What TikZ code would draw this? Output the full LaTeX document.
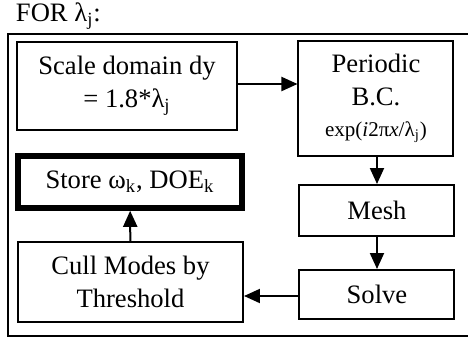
\documentclass[tikz,border=0pt]{standalone}
\usepackage{fontspec}
\setmainfont{Liberation Serif}
\usetikzlibrary{arrows.meta}

\begin{document}
\begin{tikzpicture}[
      x = 0.5pt, y = -0.5pt,
      every node/.style = {draw, rectangle, line width = 1pt, inner sep = 0pt, align = center,
                           font = \fontsize{13.3}{16.5}\selectfont},
      stepbox/.style = {minimum width = #1},
      flow/.style = {line width = 1pt, -{Triangle[length = 8pt, width = 7pt]}}
      ]
      \useasboundingbox (0,0) rectangle (468,339);
      % loop frame, open on the right
      \draw[line width = 1pt] (474,34) -- (8,34) -- (8,336) -- (474,336);
      \node[draw = none, anchor = base west] (title) at (15,21) {FOR λ\textsubscript{j}:};

      \node[stepbox = 110pt, minimum height = 44pt] (scale) at (127,86)
            {Scale domain dy\\ = 1.8*λ\textsubscript{j}};
      \node[stepbox = 77.5pt, minimum height = 57.5pt] (bc) at (376,98.5)
            {Periodic\\ B.C.\\[-1pt] {\fontsize{10.5}{12}\selectfont exp(\textit{i}2π\textit{x}/λ\textsubscript{j})}};
      \node[stepbox = 77.5pt, minimum height = 25.5pt] (mesh) at (377,210.5) {Mesh};
      \node[stepbox = 77.5pt, minimum height = 24.5pt] (solve) at (377,294.5) {Solve};
      \node[stepbox = 112.5pt, minimum height = 40pt] (cull) at (130.5,282)
            {Cull Modes by\\ Threshold};
      \node[stepbox = 112pt, minimum height = 26pt, line width = 2.8pt] (store) at (130,182)
            {Store ω\textsubscript{k}, DOE\textsubscript{k}};

      \draw[flow] (scale.east |- 0,84) -- (bc.west |- 0,84);
      \draw[flow] (bc.south -| mesh) -- (mesh.north);
      \draw[flow] (mesh) -- (solve);
      \draw[flow] (solve.west |- 0,296) -- (cull.east |- 0,296);
      \draw[flow] (cull) -- (store);
\end{tikzpicture}
\end{document}
